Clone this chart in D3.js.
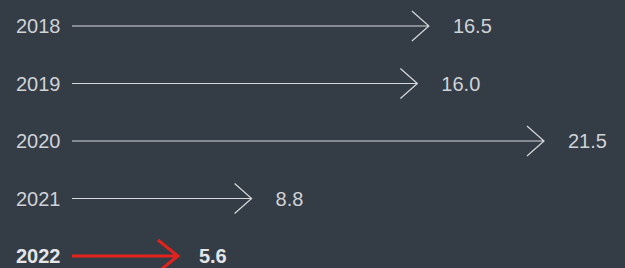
<!DOCTYPE html>
<html lang="en">
<head>
  <meta charset="UTF-8">
  <title>Arrows by year</title>
  <style>
  body { margin: 0; background: #343c46; }
  svg { display: block; }
  text { font-family: "Liberation Sans", Arial, sans-serif; font-size: 20px; fill: #cfd2d6; }
  .hl text { font-weight: bold; fill: #e3e5e8; }
  </style>
</head>
<body>
  <svg></svg>
  <script src="https://d3js.org/d3.v7.min.js"></script>
  <script>
  var years = ['2018', '2019', '2020', '2021', '2022'];
  var values = [16.5, 16.0, 21.5, 8.8, 5.6];
  var highlight = '2022';

  var width = 625, height = 268;
  var svg = d3.select('svg').attr('width', width).attr('height', height);

  var x = d3.scaleLinear().domain([0, 21.5]).range([49, 544]);
  var y = d3.scalePoint().domain(years).range([26, 256]);
  var x0 = 72;

  var rows = svg.selectAll('g.row')
    .data(years.map(function (d, i) { return { year: d, value: values[i] }; }))
    .enter()
    .append('g')
    .attr('class', function (d) { return d.year === highlight ? 'row hl' : 'row'; })
    .attr('transform', function (d) { return 'translate(0,' + y(d.year) + ')'; });

  rows.append('text')
    .attr('x', 16)
    .attr('dy', '0.36em')
    .text(function (d) { return d.year; });

  rows.append('path')
    .attr('fill', 'none')
    .attr('stroke', function (d) { return d.year === highlight ? '#e3231b' : '#d6d9dc'; })
    .attr('stroke-width', function (d) { return d.year === highlight ? 3 : 1.2; })
    .attr('d', function (d) {
      var tip = x(d.value);
      var hl = d.year === highlight;
      var ax = hl ? 20 : 17, ay = hl ? 16 : 15;
      return 'M' + x0 + ',0H' + tip + 'M' + (tip - ax) + ',' + (-ay) + 'L' + tip + ',0L' + (tip - ax) + ',' + ay;
    });

  rows.append('text')
    .attr('x', function (d) { return x(d.value) + (d.year === highlight ? 21 : 24); })
    .attr('dy', '0.36em')
    .text(function (d) { return d3.format('.1f')(d.value); });
  </script>
</body>
</html>
